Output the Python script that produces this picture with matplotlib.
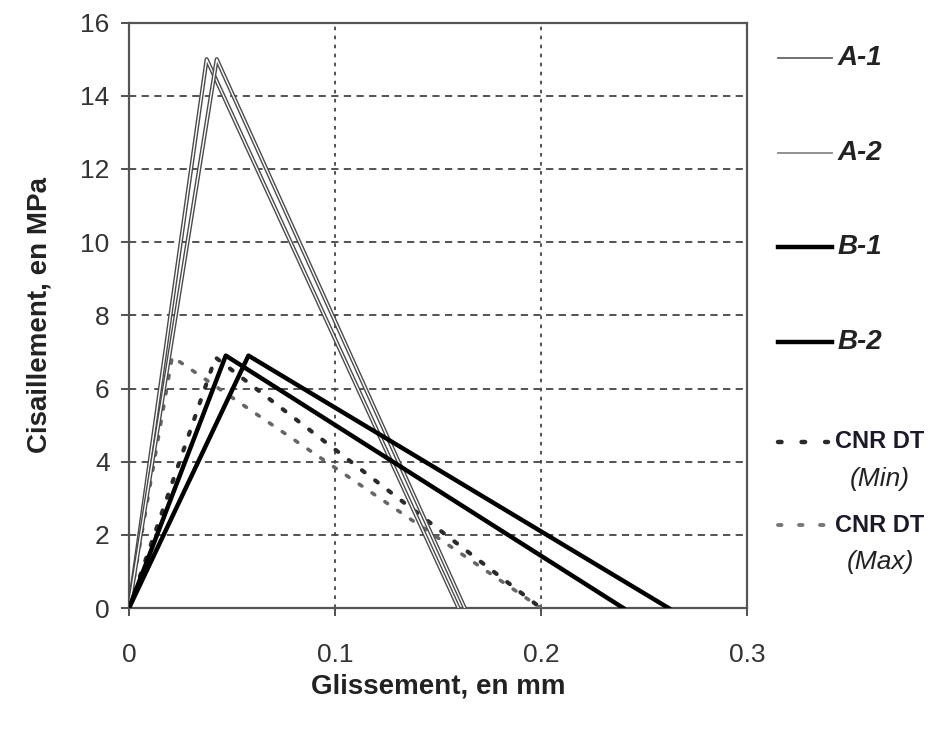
import matplotlib
matplotlib.use("Agg")
import matplotlib.pyplot as plt
import matplotlib.patheffects as pe
from matplotlib.lines import Line2D

# slip (mm) and shear stress (MPa) for each test
a1_x = [0, 0.0377, 0.160]
a1_y = [0, 15.0, 0]
a2_x = [0, 0.0426, 0.163]
a2_y = [0, 15.0, 0]
b1_x = [0, 0.047, 0.240]
b1_y = [0, 6.9, 0]
b2_x = [0, 0.058, 0.262]
b2_y = [0, 6.9, 0]
cnr_min_x = [0, 0.042, 0.200]
cnr_min_y = [0, 6.85, 0]
cnr_max_x = [0, 0.021, 0.200]
cnr_max_y = [0, 6.87, 0]

x_ticks = [0, 0.1, 0.2, 0.3]
x_labels = ["0", "0.1", "0.2", "0.3"]
y_ticks = [0, 2, 4, 6, 8, 10, 12, 14, 16]

plt.rcParams['font.family'] = ['Liberation Sans', 'DejaVu Sans']

fig = plt.figure(figsize=(9.36, 7.30), dpi=100)
ax = fig.add_axes([0.1378, 0.167, 0.798 - 0.1378, 0.969 - 0.167])

hollow = [pe.Stroke(linewidth=3.0, foreground='#4a4a4a'),
          pe.Stroke(linewidth=1.0, foreground='white')]
ax.plot(a1_x, a1_y, color='#444444', lw=3.0, path_effects=hollow, zorder=4)
ax.plot(a2_x, a2_y, color='#444444', lw=3.0, path_effects=hollow, zorder=4)
ax.plot(b1_x, b1_y, color='black', lw=3.2, zorder=5)
ax.plot(b2_x, b2_y, color='black', lw=3.2, zorder=5)
ax.plot(cnr_min_x, cnr_min_y, color='#2a2a2a', lw=3.0, ls=(0, (0.8, 3.2)),
        dash_capstyle='round', zorder=3)
ax.plot(cnr_max_x, cnr_max_y, color='#666666', lw=2.6, ls=(0, (0.9, 3.4)),
        dash_capstyle='round', zorder=3)

ax.set_xlim(0, 0.3)
ax.set_ylim(0, 16)
ax.set_xticks(x_ticks)
ax.set_xticklabels(x_labels)
ax.set_yticks(y_ticks)
ax.tick_params(labelsize=19, colors='#333333', direction='out', length=6,
               width=1.2, pad=8)
ax.tick_params(axis='x', pad=19)

ax.yaxis.grid(True, color='#444444', lw=1.3, ls=(0, (4, 3)))
ax.xaxis.grid(True, color='#444444', lw=1.3, ls=(0, (2, 3)))
ax.set_axisbelow(True)
for s in ax.spines.values():
    s.set_color('#555555')
    s.set_linewidth(1.6)

ax.set_xlabel("Glissement, en mm", fontsize=20, fontweight='bold',
              color='#222222', labelpad=5)
ax.set_ylabel("Cisaillement, en MPa", fontsize=20, fontweight='bold',
              color='#222222', labelpad=20)

# legend drawn by hand on the right side
W, H = 936.0, 730.0
def fx(px):
    return px / W
def fy(py):
    return 1 - py / H

entries = [
    ("A-1", 58, dict(color='#666666', lw=1.3, ls='-')),
    ("A-2", 153, dict(color='#888888', lw=1.3, ls='-')),
    ("B-1", 247, dict(color='black', lw=3.2, ls='-')),
    ("B-2", 342, dict(color='black', lw=3.2, ls='-')),
]
for label, py, style in entries:
    fig.add_artist(Line2D([fx(778), fx(832)], [fy(py), fy(py)], **style))
    fig.text(fx(838), fy(py), label, fontsize=20, fontweight='bold',
             style='italic', color='#222222', va='center', ha='left')

cnr = [
    ("(Min)", 442, dict(color='#2a2a2a', lw=3.2, ls=(0, (0.8, 4.5)),
                        dash_capstyle='round')),
    ("(Max)", 525, dict(color='#777777', lw=2.8, ls=(0, (0.9, 4.5)),
                        dash_capstyle='round')),
]
for sub, py, style in cnr:
    fig.add_artist(Line2D([fx(778), fx(828)], [fy(py), fy(py)], **style))
    fig.text(fx(880), fy(py), "CNR DT", fontsize=17, fontweight='bold',
             color='#1a1a2a', va='center', ha='center')
    fig.text(fx(880), fy(py + 37), sub, fontsize=19, style='italic',
             color='#222222', va='center', ha='center')

fig.savefig("out.png", dpi=100)
